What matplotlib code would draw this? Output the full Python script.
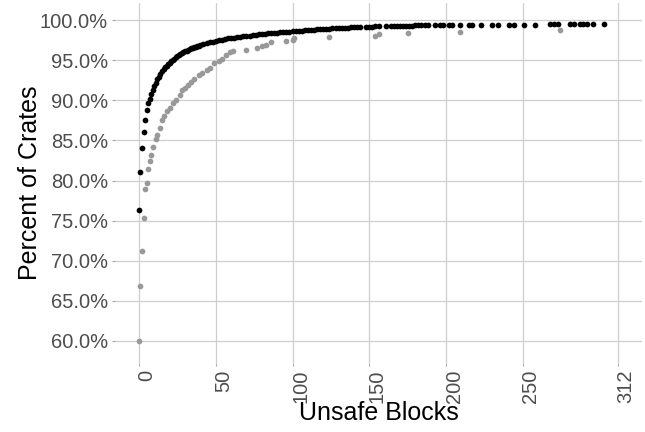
import matplotlib
matplotlib.use("Agg")
import matplotlib.pyplot as plt
import matplotlib.transforms as mtransforms
from matplotlib.ticker import FuncFormatter

plt.rcParams.update({
    "font.family": ["Liberation Sans", "DejaVu Sans"],
    "axes.spines.top": False, "axes.spines.right": False,
    "axes.spines.left": False, "axes.spines.bottom": False,
})

# crates with few unsafe blocks (gray series), percent cumulative
GRAY_X = [0, 1, 2, 3, 4, 5, 6, 7, 8, 9, 11, 12, 14, 15, 16, 18, 20, 22, 24, 27,
          28, 30, 32, 34, 36, 39, 41, 44, 46, 49, 52, 54, 57, 59, 61, 70, 77, 80,
          83, 86, 96, 100, 101, 124, 154, 156, 175, 209, 274]
GRAY_Y = [60.0, 66.8, 71.2, 75.3, 78.9, 79.7, 81.4, 82.4, 83.2, 84.2, 85.2, 85.7,
          86.6, 87.5, 88.1, 88.7, 89.0, 89.6, 90.0, 90.6, 91.25, 91.5, 91.9, 92.3,
          92.7, 93.1, 93.4, 93.75, 94.0, 94.6, 94.9, 95.2, 95.6, 96.0, 96.2, 96.3,
          96.5, 96.7, 96.9, 97.2, 97.35, 97.5, 97.7, 97.9, 98.0, 98.2, 98.4, 98.55,
          98.75]

# all crates (black series)
BLACK_X = [0, 1, 2, 3, 4, 5, 6, 7, 8, 9, 10, 11, 12, 13, 14, 15, 16, 17, 18, 19,
           20, 21, 22, 23, 24, 25, 26, 27, 28, 29, 30, 31, 32, 33, 34, 35, 36, 37,
           38, 39, 40, 42, 44, 46, 48, 50, 52, 54, 56, 58, 60, 62, 64, 66, 68, 70,
           72, 74, 76, 78, 80, 82, 84, 86, 88, 90, 92, 94, 96, 98, 100, 102, 104,
           106, 108, 110, 112, 114, 116, 118, 120, 122, 124, 126, 128, 130, 132,
           134, 136, 138, 140, 142, 144, 148, 150, 152, 154, 156, 161, 164, 166,
           168, 170, 172, 174, 176, 178, 180, 182, 184, 186, 188, 193, 196, 198,
           202, 204, 209, 215, 217, 223, 230, 234, 241, 244, 251, 258, 268, 270,
           273, 281, 283, 287, 289, 292, 296, 303]
BLACK_Y = [76.3, 81.1, 84.1, 86.0, 87.6, 88.8, 89.6, 90.2, 90.8, 91.3, 91.8, 92.2,
           92.6, 92.95, 93.3, 93.6, 93.85, 94.1, 94.3, 94.5, 94.7, 94.9, 95.05,
           95.2, 95.35, 95.5, 95.65, 95.8, 95.9, 96.0, 96.1, 96.2, 96.3, 96.38,
           96.45, 96.52, 96.6, 96.68, 96.75, 96.82, 96.9, 97.0, 97.1, 97.2, 97.3,
           97.4, 97.45, 97.55, 97.6, 97.7, 97.75, 97.8, 97.85, 97.9, 97.95, 98.0,
           98.05, 98.1, 98.15, 98.2, 98.25, 98.3, 98.33, 98.36, 98.4, 98.43, 98.46,
           98.5, 98.53, 98.56, 98.6, 98.62, 98.65, 98.68, 98.7, 98.73, 98.76, 98.8,
           98.83, 98.86, 98.9, 98.92, 98.94, 98.96, 98.98, 99.0, 99.02, 99.04,
           99.06, 99.08, 99.1, 99.12, 99.14, 99.17, 99.18, 99.19, 99.2, 99.21,
           99.23, 99.24, 99.25, 99.26, 99.27, 99.28, 99.29, 99.3, 99.31, 99.32,
           99.32, 99.33, 99.33, 99.34, 99.35, 99.36, 99.36, 99.37, 99.37, 99.38,
           99.39, 99.39, 99.4, 99.4, 99.41, 99.42, 99.42, 99.43, 99.44, 99.45,
           99.45, 99.46, 99.47, 99.47, 99.48, 99.48, 99.49, 99.49, 99.5]

X_BREAKS = [0, 50, 100, 150, 200, 250, 312]
Y_BREAKS = [60, 65, 70, 75, 80, 85, 90, 95, 100]

fig = plt.figure(figsize=(6.45, 4.32), dpi=100)
ax = fig.add_axes([115 / 645, 69.5 / 432, 527 / 645, 359.5 / 432])

ax.scatter(GRAY_X, [v / 100 for v in GRAY_Y], s=17, color="#999999",
           linewidths=0, zorder=3)
ax.scatter(BLACK_X, [v / 100 for v in BLACK_Y], s=17, color="black",
           linewidths=0, zorder=4)

ax.set_xlim(-15.6, 327.6)
ax.set_ylim(0.5732, 1.0212)
ax.set_xticks(X_BREAKS)
ax.set_xticklabels([str(b) for b in X_BREAKS])
ax.set_yticks([b / 100 for b in Y_BREAKS])
ax.yaxis.set_major_formatter(FuncFormatter(lambda v, p: f"{v * 100:.1f}%"))

ax.grid(True, color="#cfcfcf", linewidth=0.9)
ax.set_axisbelow(True)
ax.tick_params(axis="both", length=2.2, width=0.8, color="#aaaaaa",
               labelcolor="#4d4d4d", labelsize=14.5, pad=3)

off = mtransforms.ScaledTranslation(8 / 100, 0, fig.dpi_scale_trans)
for lab in ax.get_xticklabels():
    lab.set_rotation(90)
    lab.set_va("top")
    lab.set_ha("center")
    lab.set_transform(lab.get_transform() + off)

ax.set_xlabel("Unsafe Blocks", fontsize=18, va="center")
ax.xaxis.set_label_coords(0.5, -0.14)
ax.set_ylabel("Percent of Crates", fontsize=18, va="center")
ax.yaxis.set_label_coords(-0.1613, 0.5)

fig.savefig("out.png", dpi=100)
